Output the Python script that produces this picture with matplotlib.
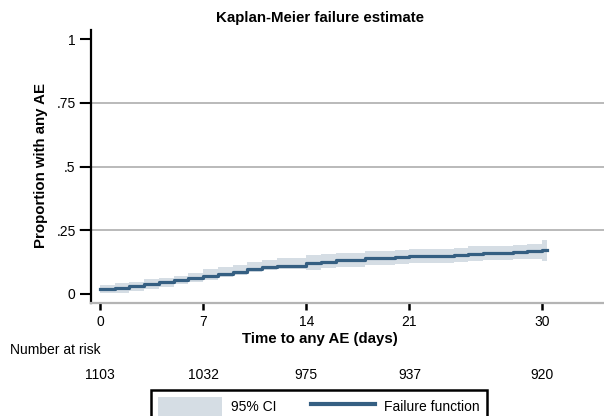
import matplotlib.pyplot as plt
from matplotlib.patches import Patch
from matplotlib.lines import Line2D
from matplotlib.transforms import blended_transform_factory

plt.rcParams['font.family'] = ['Liberation Sans', 'DejaVu Sans']

# KM failure estimate, one value per step (step starts at given day)
days = [0, 1, 2, 3, 4, 5, 6, 7, 8, 9, 10, 11, 12, 14, 15, 16, 18, 20, 21, 24, 25, 26, 28, 29, 30]
failure = [0.017, 0.023, 0.031, 0.039, 0.045, 0.053, 0.062, 0.070, 0.077, 0.085, 0.096, 0.103, 0.109,
           0.121, 0.126, 0.131, 0.140, 0.143, 0.148, 0.151, 0.157, 0.160, 0.164, 0.168, 0.172]
ci_upper = [0.033, 0.041, 0.046, 0.057, 0.062, 0.070, 0.081, 0.096, 0.105, 0.113, 0.124, 0.132, 0.141,
            0.150, 0.155, 0.160, 0.169, 0.172, 0.177, 0.180, 0.186, 0.189, 0.193, 0.197, 0.210]
ci_lower = [0.001, 0.003, 0.011, 0.020, 0.027, 0.036, 0.045, 0.054, 0.064, 0.073, 0.086, 0.093, 0.098,
            0.094, 0.099, 0.103, 0.112, 0.115, 0.120, 0.123, 0.129, 0.131, 0.135, 0.138, 0.128]
end_of_followup = 30.35

risk_times = [0, 7, 14, 21, 30]
n_at_risk = [1103, 1032, 975, 937, 920]

line_col = '#355f82'
band_col = '#d5dde4'
grid_col = '#b4b4b4'

fig = plt.figure(figsize=(6.04, 4.16), dpi=100)
W, H = 604, 416
ax = fig.add_axes([91 / W, (H - 303) / H, 513 / W, 273 / H])

t = days + [end_of_followup]
ax.fill_between(t, ci_lower + ci_lower[-1:], ci_upper + ci_upper[-1:], step='post',
                color=band_col, linewidth=0, zorder=2)
ax.step(t, failure + failure[-1:], where='post', color=line_col, lw=2.3, zorder=3)

ax.set_xlim(-0.61, 34.2)
ax.set_ylim(-0.037, 1.037)

# grid lines reaching past the left axis like Stata's ticks
ytrans = ax.get_yaxis_transform()
for yv in [0.25, 0.5, 0.75]:
    ax.plot([-0.022, 1], [yv, yv], transform=ytrans, color=grid_col, lw=1.3, clip_on=False, zorder=1)

ax.set_xticks(risk_times)
ax.set_yticks([0, 0.25, 0.5, 0.75, 1])
ax.set_yticklabels(['0', '.25', '.5', '.75', '1'])
ax.tick_params(axis='x', length=5, width=1.8, color='black', pad=4, labelsize=10)
ax.tick_params(axis='y', length=8, width=1.5, color='black', pad=3, labelsize=10)

for s in ['top', 'right']:
    ax.spines[s].set_visible(False)
ax.spines['left'].set_linewidth(1.6)
ax.spines['left'].set_color('black')
ax.spines['bottom'].set_linewidth(1.6)
ax.spines['bottom'].set_color(grid_col)

fig.text(320 / W, 1 - 339 / H, 'Time to any AE (days)', ha='center', va='center',
         fontsize=10.8, fontweight='bold')
fig.text(41 / W, 1 - 165 / H, 'Proportion with any AE', ha='center', va='center', rotation=90,
         fontsize=10.8, fontweight='bold')
fig.text(320 / W, 1 - 18 / H, 'Kaplan-Meier failure estimate', ha='center', va='center',
         fontsize=10.8, fontweight='bold')

# number at risk table
fig.text(10 / W, 1 - 350 / H, 'Number at risk', ha='left', va='center', fontsize=10)
rtrans = blended_transform_factory(ax.transData, fig.transFigure)
for rt, n in zip(risk_times, n_at_risk):
    fig.text(rt, 1 - 375 / H, str(n), transform=rtrans, ha='center', va='center', fontsize=10)

handles = [Patch(facecolor=band_col, edgecolor='none'), Line2D([], [], color=line_col, lw=3)]
leg = fig.legend(handles, ['95% CI', 'Failure function'], loc='upper center',
                 bbox_to_anchor=(319 / W, 1 - 390 / H), ncol=2, fontsize=10, fancybox=False,
                 edgecolor='black', framealpha=1, handlelength=4.6, handleheight=1.7,
                 handletextpad=0.65, columnspacing=2.5, borderpad=0.5, borderaxespad=0)
leg.get_frame().set_linewidth(1.8)

fig.savefig('out.png', dpi=100)
